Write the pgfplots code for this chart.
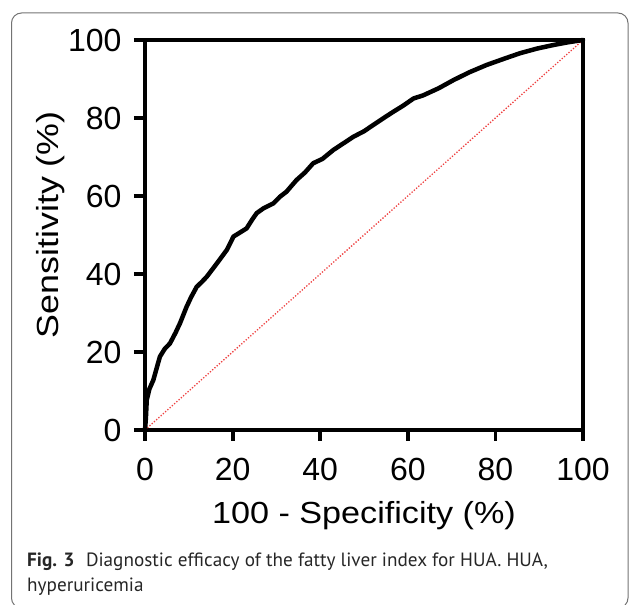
\documentclass[border=0pt]{standalone}
\usepackage{pgfplots}
\pgfplotsset{compat=1.18}
\usepackage{fontspec}
\setmainfont{Liberation Sans}
\newfontfamily\capfont{PT Sans}
\definecolor{diag}{RGB}{238,64,64}
\begin{document}
\begin{tikzpicture}[x=1pt,y=1pt]
\path[use as bounding box] (0,0) rectangle (630,605);
\draw[black!55, line width=1pt, rounded corners=10pt] (11.5,-3) rectangle (628,592);
\begin{axis}[
  at={(145pt,175pt)}, anchor=south west,
  scale only axis, width=438pt, height=390pt,
  xmin=0, xmax=100, ymin=0, ymax=100,
  axis line style={line width=3.8pt, black},
  xtick={0,20,40,60,80,100}, ytick={0,20,40,60,80,100},
  xtick pos=lower, ytick pos=left,
  tick align=outside, major tick length=11pt,
  tick style={line width=3.8pt, black},
  /pgf/number format/assume math mode=true,
  ticklabel style={font=\fontsize{32}{32}\selectfont},
  xticklabel style={yshift=-14pt},
  yticklabel style={xshift=-9pt},
  label style={font=\fontsize{30.5}{30.5}\selectfont},
  xlabel={100 - Specificity (\%)},
  ylabel={Sensitivity (\%)},
  xlabel style={at={(axis description cs:0.5,-0.22)}, anchor=center, xscale=1.12},
  ylabel style={at={(axis description cs:-0.216,0.526)}, anchor=center, xscale=1.175},
  clip=false,
]
\addplot[diag, line width=1.3pt, dash pattern=on 1.3pt off 1.7pt] coordinates {(0,0) (100,100)};
\addplot[black, line width=4.5pt, line join=round, line cap=round] coordinates {
(0,0) (0.2,3) (0.4,7.7) (1.0,10.5) (1.9,12.8) (2.7,16) (3.4,18.8) (4.5,20.8)
(5.7,22.2) (7,25) (8.0,27.4) (9.5,31.6) (10.5,34) (11.8,36.7) (13,38) (14.1,39.3)
(16.4,42.7) (18.7,46.2) (20.2,49.6) (21.5,50.5) (23.2,51.7) (24.5,54) (25.5,55.6)
(27,56.8) (29.3,58.1) (30.8,59.8) (32.3,61.1) (34.6,64.1) (36.5,66) (38.4,68.4)
(40.5,69.5) (43.0,71.8) (45.3,73.5) (47.6,75.2) (50,76.6) (52.1,78.2) (54.5,80)
(56.7,81.6) (59,83.2) (61.3,85.0) (63.5,85.8) (67.0,87.6) (70.4,89.7) (74,91.7)
(78.0,93.6) (82,95.2) (85.6,96.6) (89.5,97.8) (93.2,98.7) (96.5,99.4) (100,100)
};
\end{axis}
\node[anchor=base west, inner sep=0pt, text=black!85, font=\capfont\fontsize{19.2}{25}\selectfont] at (27,38)
  {\textbf{Fig. 3}\hspace{0.6em}Diagnostic efficacy of the fatty liver index for HUA. HUA,};
\node[anchor=base west, inner sep=0pt, text=black!85, font=\capfont\fontsize{19.2}{25}\selectfont] at (27,13)
  {hyperuricemia};
\end{tikzpicture}
\end{document}
